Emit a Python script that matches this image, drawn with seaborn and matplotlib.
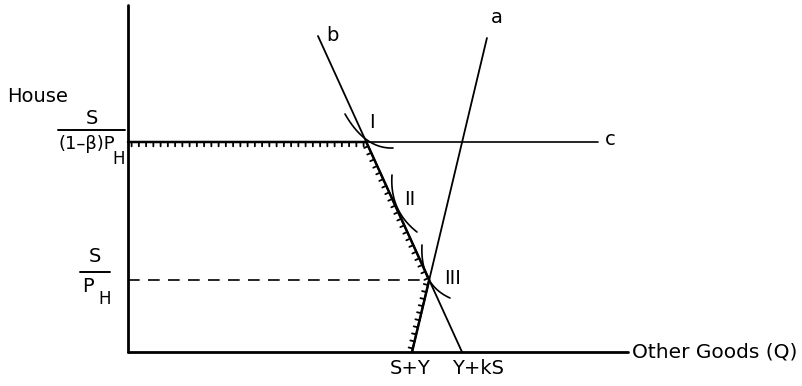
import numpy as np
import pandas as pd
import matplotlib
matplotlib.use("Agg")
import matplotlib.pyplot as plt
from matplotlib import patheffects as pe
import seaborn as sns

sns.set_style("white")
plt.rcParams["font.family"] = ["DejaVu Sans"]
plt.rcParams["text.color"] = "black"

# ---- model values (chart units) ----
S_plus_Y = 2.84          # budget line a meets the Q axis
Y_plus_kS = 3.34         # budget line b meets the Q axis
H_c = 2.10               # S/((1-beta)P_H), level of line c
slope_b = -2.194
slope_a = 4.19
c_end_x = 4.70
b_top_y = 3.16
a_top_y = 3.14
x_axis_end = 5.0
y_axis_top = 3.47

# indifference curves: start, point on curve, end
ic_I = [(2.17, 2.38), (2.39, 2.12), (2.65, 2.04)]
ic_II = [(2.64, 1.77), (2.69, 1.45), (2.89, 1.20)]
ic_III = [(2.94, 1.07), (3.00, 0.74), (3.22, 0.54)]

# derived points
I_x = Y_plus_kS + H_c / slope_b
III_x = (slope_a * S_plus_Y - slope_b * Y_plus_kS) / (slope_a - slope_b)
III_y = slope_a * (III_x - S_plus_Y)
b_top_x = Y_plus_kS + b_top_y / slope_b
a_top_x = S_plus_Y + a_top_y / slope_a

fig = plt.figure(figsize=(8.03, 3.86), dpi=100)
ax = fig.add_axes([0, 0, 1, 1])
ax.set_xlim(-1.28, 6.75)
ax.set_ylim(-0.34, 3.52)
ax.axis("off")

def line(xs, ys, lw=1.4, ls="-", **kw):
    sns.lineplot(x=xs, y=ys, ax=ax, color="black", lw=lw, ls=ls,
                 sort=False, estimator=None, **kw)
    return ax.lines[-1]

# axes
line([0, x_axis_end], [0, 0], lw=2.0)
line([0, 0], [0, y_axis_top], lw=2.0)

# line c
line([0, c_end_x], [H_c, H_c], lw=1.2)
# line b
line([b_top_x, Y_plus_kS], [b_top_y, 0], lw=1.3)
# line a
line([S_plus_Y, a_top_x], [0, a_top_y], lw=1.3)

# dashed S/P_H level
l = line([0, III_x], [III_y, III_y], lw=1.2)
l.set_dashes([7, 5])

# hatched kinked budget constraint
hx = [0, I_x, III_x, S_plus_Y]
hy = [H_c, H_c, III_y, 0]
l = line(hx, hy, lw=1.8)
l.set_path_effects([pe.withTickedStroke(angle=-90, spacing=5.2, length=0.6,
                                        linewidth=1.3)])

# indifference curves (quadratic Bezier through three points)
def ic(pts):
    p0, m, p2 = (np.array(p) for p in pts)
    p1 = 2 * m - (p0 + p2) / 2
    t = np.linspace(0, 1, 50)[:, None]
    c = (1 - t) ** 2 * p0 + 2 * (1 - t) * t * p1 + t ** 2 * p2
    line(c[:, 0], c[:, 1], lw=1.2)

for pts in (ic_I, ic_II, ic_III):
    ic(pts)

fs = 14
ax.text(2.44, 2.20, "I", fontsize=fs, ha="center", va="bottom")
ax.text(2.82, 1.52, "II", fontsize=fs, ha="center", va="center")
ax.text(3.25, 0.74, "III", fontsize=fs, ha="center", va="center")
ax.text(b_top_x + 0.08, b_top_y, "b", fontsize=fs, ha="left", va="center")
ax.text(a_top_x + 0.04, a_top_y + 0.20, "a", fontsize=fs, ha="left", va="center")
ax.text(c_end_x + 0.07, H_c + 0.02, "c", fontsize=fs, ha="left", va="center")

ax.text(S_plus_Y - 0.02, -0.07, "S+Y", fontsize=fs, ha="center", va="top")
ax.text(Y_plus_kS + 0.16, -0.07, "Y+kS", fontsize=fs, ha="center", va="top")
ax.text(x_axis_end + 0.04, 0, "Other Goods (Q)", fontsize=fs + 0.5, ha="left", va="center")

ax.text(-1.21, 2.55, "House", fontsize=fs, ha="left", va="center")
# S / ((1-β)P_H)
ax.text(-0.36, 2.33, "S", fontsize=fs, ha="center", va="center")
line([-0.70, -0.03], [2.22, 2.22], lw=1.4)
ax.text(-0.70, 2.08, "(1–β)P", fontsize=fs - 1, ha="left", va="center")
ax.text(-0.155, 1.93, "H", fontsize=fs - 2, ha="left", va="center")
# S / P_H
ax.text(-0.33, 0.95, "S", fontsize=fs, ha="center", va="center")
line([-0.48, -0.18], [0.80, 0.80], lw=1.4)
ax.text(-0.40, 0.66, "P", fontsize=fs, ha="center", va="center")
ax.text(-0.30, 0.53, "H", fontsize=fs - 2, ha="left", va="center")

fig.savefig("out.png", dpi=100)
